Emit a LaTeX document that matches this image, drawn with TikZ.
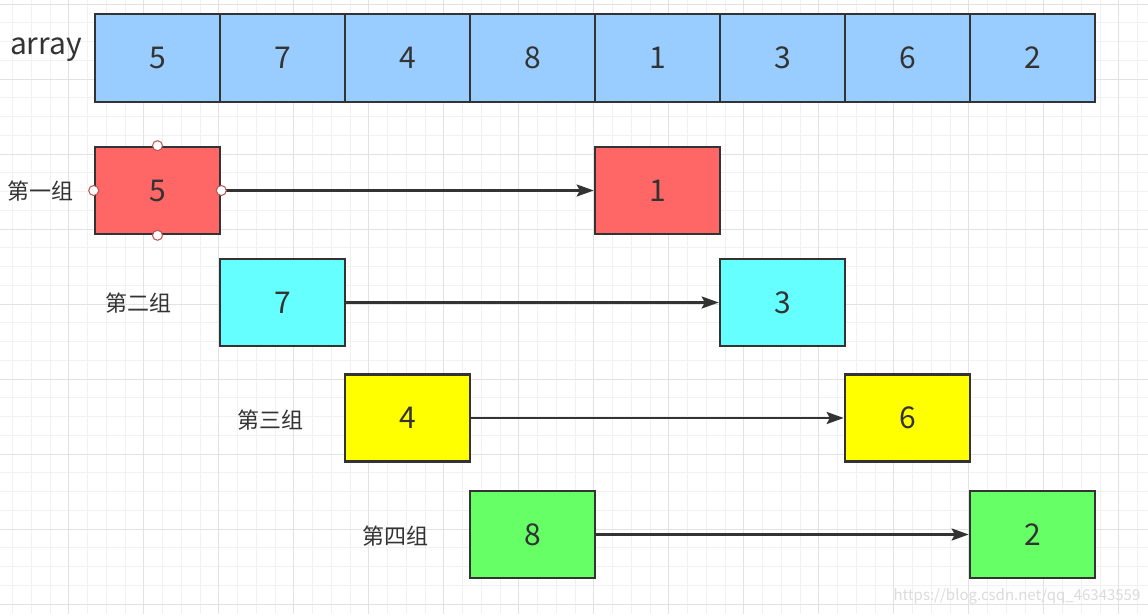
\documentclass[tikz,border=0pt]{standalone}
\usepackage{fontspec}
\setmainfont{Noto Sans CJK SC}
\usetikzlibrary{arrows.meta}
\definecolor{ink}{HTML}{333333}
\definecolor{arrblue}{HTML}{99CCFF}
\definecolor{gred}{HTML}{FF6666}
\definecolor{gcyan}{HTML}{66FFFF}
\definecolor{gyellow}{HTML}{FFFF00}
\definecolor{ggreen}{HTML}{66FF66}
\definecolor{gridminor}{HTML}{F1F1F1}
\definecolor{gridmajor}{HTML}{E2E2E2}
\definecolor{handle}{HTML}{B85450}
\begin{document}
\begin{tikzpicture}[x=1pt,y=-1pt,
  cell/.style={draw=ink, line width=2.6pt, minimum width=125pt, minimum height=88pt, inner sep=0pt,
    text=ink, font=\fontsize{30}{32}\selectfont},
  gbox/.style={cell, minimum height=87pt},
  glabel/.style={text=ink, font=\fontsize{22}{24}\selectfont, inner sep=0pt},
  arr/.style={draw=ink, line width=2.1pt, -{Stealth[length=17pt,width=12pt,inset=3pt]}},
  hdl/.style={circle, draw=handle, fill=white, line width=1pt, minimum size=10pt, inner sep=0pt}]
\useasboundingbox (0,0) rectangle (1148,614);
\fill[white] (0,0) rectangle (1148,614);
% grid
\foreach \k in {0,...,61}{
  \pgfmathsetmacro\xx{-6.25+18.75*\k}
  \draw[gridminor, line width=1pt] (\xx,0) -- (\xx,614);
}
\foreach \k in {0,...,32}{
  \pgfmathsetmacro\yy{4+18.75*\k}
  \draw[gridminor, line width=1pt] (0,\yy) -- (1148,\yy);
}
\foreach \k in {0,...,15}{
  \pgfmathsetmacro\xx{-6.25+75*\k}
  \draw[gridmajor, line width=1pt] (\xx,0) -- (\xx,614);
}
\foreach \k in {0,...,8}{
  \pgfmathsetmacro\yy{4+75*\k}
  \draw[gridmajor, line width=1pt] (0,\yy) -- (1148,\yy);
}
% array
\node[text=ink, font=\fontsize{30}{32}\selectfont, inner sep=0pt] (arrlabel) at (46,50) {array};
\node[cell, fill=arrblue] (a1) at (157.5,58) {5};
\node[cell, fill=arrblue] (a2) at (282.5,58) {7};
\node[cell, fill=arrblue] (a3) at (407.5,58) {4};
\node[cell, fill=arrblue] (a4) at (532.5,58) {8};
\node[cell, fill=arrblue] (a5) at (657.5,58) {1};
\node[cell, fill=arrblue] (a6) at (782.5,58) {3};
\node[cell, fill=arrblue] (a7) at (907.5,58) {6};
\node[cell, fill=arrblue] (a8) at (1032.5,58) {2};
% groups
\node[glabel] (l1) at (40,191) {第一组};
\node[gbox, fill=gred] (g1a) at (157.5,190.5) {5};
\node[gbox, fill=gred] (g1b) at (657.5,190.5) {1};
\draw[arr] (g1a.east) -- (g1b.west);

\node[glabel] (l2) at (138,303) {第二组};
\node[gbox, fill=gcyan] (g2a) at (282.5,302.5) {7};
\node[gbox, fill=gcyan] (g2b) at (782.5,302.5) {3};
\draw[arr] (g2a.east) -- (g2b.west);

\node[glabel] (l3) at (270,420) {第三组};
\node[gbox, fill=gyellow] (g3a) at (407.5,418) {4};
\node[gbox, fill=gyellow] (g3b) at (907.5,418) {6};
\draw[arr] (g3a.east) -- (g3b.west);

\node[glabel] (l4) at (395,536) {第四组};
\node[gbox, fill=ggreen] (g4a) at (532.5,534.5) {8};
\node[gbox, fill=ggreen] (g4b) at (1032.5,534.5) {2};
\draw[arr] (g4a.east) -- (g4b.west);

% selection handles
\node[hdl] (h1) at (g1a.north) {};
\node[hdl] (h2) at (g1a.south) {};
\node[hdl] (h3) at (g1a.west) {};
\node[hdl] (h4) at (g1a.east) {};

% watermark
\node[text=black!14, font=\fontsize{15}{17}\selectfont, inner sep=0pt] (wm) at (1017,596) {https://blog.csdn.net/qq\_46343559};
\end{tikzpicture}
\end{document}
